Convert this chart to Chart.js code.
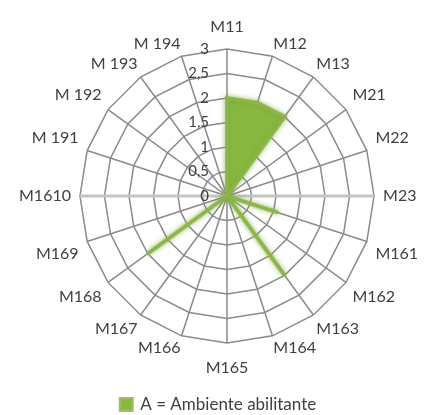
<!DOCTYPE html>
<html>
<head>
<meta charset="utf-8">
<script src="https://cdn.jsdelivr.net/npm/chart.js@4"></script>
<style>
  body { margin: 0; background: #fff; }
  #wrap { width: 427px; height: 415px; }
</style>
</head>
<body>
<div id="wrap"><canvas id="graficoRadar"></canvas></div>
<script>
const categorie = ["M11", "M12", "M13", "M21", "M22", "M23", "M161", "M162", "M163", "M164",
  "M165", "M166", "M167", "M168", "M169", "M1610", "M 191", "M 192", "M 193", "M 194"];
const valoriA = [2, 2, 2, 0, 0, 0, 1.1, 0, 2, 0, 0, 0, 0, 2, 0, 0, 0, 0, 0, 0];
const tacche = [0, 0.5, 1, 1.5, 2, 2.5, 3];

const verde = "rgba(137, 184, 64, 1)";
// distanza etichetta-anello, come la mette Excel (dipende dall'angolo)
const distanze = [13, 3, 5, 8, 9, 9];

// etichette della scala a sinistra dell'asse verticale, con la virgola
const etichetteScala = {
  id: "etichetteScala",
  afterDraw(chart) {
    const s = chart.scales.r;
    const ctx = chart.ctx;
    ctx.save();
    ctx.font = "15px Lato";
    ctx.fillStyle = "#404040";
    ctx.textAlign = "right";
    ctx.textBaseline = "middle";
    tacche.forEach((t) => {
      const y = s.yCenter - s.getDistanceFromCenterForValue(t);
      ctx.fillText(String(t).replace(".", ","), s.xCenter - 18, y);
    });
    ctx.restore();
  },
};

// bordo sfumato dell'area verde
const sfumatura = {
  id: "sfumatura",
  beforeDatasetDraw(chart) {
    chart.ctx.save();
    chart.ctx.shadowColor = "rgba(120, 165, 50, 0.9)";
    chart.ctx.shadowBlur = 5;
  },
  afterDatasetDraw(chart) {
    chart.ctx.restore();
  },
};

const grafico = new Chart(document.getElementById("graficoRadar").getContext("2d"), {
  type: "radar",
  data: {
    labels: categorie,
    datasets: [
      {
        label: "A = Ambiente abilitante",
        data: valoriA,
        borderColor: "rgba(140, 182, 70, 0.85)",
        backgroundColor: verde,
        borderWidth: 4,
        pointRadius: 0,
        fill: true,
      },
    ],
  },
  options: {
    responsive: true,
    maintainAspectRatio: false,
    animation: false,
    layout: { padding: { top: 0, left: 10, right: 0, bottom: -8 } },
    scales: {
      r: {
        min: 0,
        max: 3,
        ticks: { stepSize: 0.5, display: false },
        grid: { color: "#8a8a8a", lineWidth: 1.5, circular: false },
        angleLines: {
          color: (c) => (c.index === 5 || c.index === 15 ? "#c4c4c4" : "#8a8a8a"),
          lineWidth: (c) => (c.index === 5 || c.index === 15 ? 3 : 1.5),
        },
        pointLabels: {
          color: "#404040",
          font: { family: "Lato", size: 16 },
          padding: (c) => {
            const k = Math.min(c.index % 10, 10 - (c.index % 10));
            return c.index === 10 ? 15 : distanze[k];
          },
        },
      },
    },
    plugins: {
      legend: {
        position: "bottom",
        labels: {
          color: "#404040",
          font: { family: "Lato", size: 17 },
          boxWidth: 11,
          boxHeight: 11,
          padding: 2,
        },
      },
      tooltip: { enabled: false },
    },
  },
  plugins: [etichetteScala, sfumatura],
});
</script>
</body>
</html>
